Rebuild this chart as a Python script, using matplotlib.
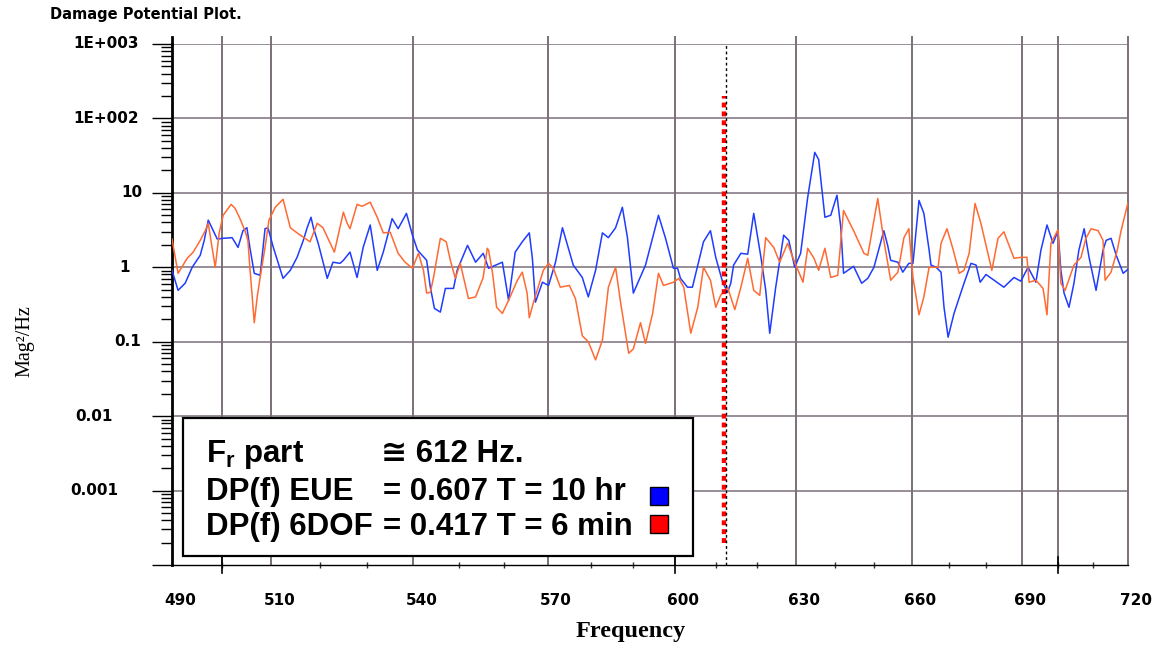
import matplotlib
matplotlib.use("Agg")
import matplotlib.pyplot as plt
from matplotlib.patches import Rectangle
from matplotlib.ticker import FixedLocator, NullFormatter, LogLocator
from matplotlib.transforms import blended_transform_factory, ScaledTranslation

# ---------------- data ----------------
freq_eue = [490.0, 491.2, 492.6, 494.0, 495.6, 496.4, 497.2, 498.2, 499.0, 500.2,
            502.0, 503.2, 504.2, 505.0, 505.6, 506.5, 507.7, 508.7, 509.3, 510.4,
            512.4, 513.9, 515.3, 516.6, 517.4, 518.2, 518.7, 519.7, 521.6, 522.8,
            524.3, 525.0, 526.4, 527.9, 529.2, 530.7, 532.2, 533.5, 535.4, 536.7,
            538.5, 539.8, 540.9, 542.9, 543.7, 544.6, 545.9, 547.0, 548.8, 549.6,
            551.9, 553.7, 555.4, 556.6, 559.7, 561.1, 562.6, 564.2, 565.8, 566.5,
            567.2, 568.3, 568.8, 570.2, 571.8, 573.4, 575.9, 578.0, 579.4, 581.1,
            582.7, 584.1, 585.8, 587.4, 588.6, 590.0, 592.9, 596.0, 597.7, 599.6,
            600.6, 601.3, 603.0, 604.2, 605.5, 606.9, 608.6, 609.9, 611.6, 612.8,
            613.6, 614.3, 616.1, 617.8, 619.3, 621.1, 622.3, 623.3, 624.8, 626.8,
            628.1, 629.6, 631.1, 632.9, 634.7, 635.7, 637.3, 638.8, 640.4, 641.4,
            642.1, 644.7, 646.8, 648.4, 650.0, 652.6, 653.6, 654.4, 656.3, 657.6,
            659.2, 660.3, 661.9, 663.2, 664.6, 665.1, 666.5, 667.8, 668.6, 669.7,
            671.3, 674.0, 675.9, 677.3, 678.4, 680.0, 682.2, 684.9, 687.7, 689.6,
            691.6, 693.8, 695.2, 696.9, 698.6, 700.0, 700.8, 701.7, 703.1, 704.5,
            705.9, 707.4, 708.8, 710.8, 712.8, 713.7, 715.1, 716.6, 718.6, 720.0]
mag_eue = [0.91, 0.49, 0.61, 1.0, 1.45, 2.3, 4.3, 3.1, 2.4, 2.45,
           2.5, 1.85, 3.1, 3.4, 1.85, 0.83, 0.78, 3.3, 3.4, 1.85,
           0.71, 0.91, 1.36, 2.3, 3.4, 4.7, 3.4, 2.1, 0.71, 1.17,
           1.13, 1.24, 1.6, 0.73, 1.85, 3.7, 0.91, 1.6, 4.5, 3.3,
           5.3, 2.7, 1.7, 1.24, 0.54, 0.28, 0.25, 0.52, 0.52, 0.91,
           1.97, 1.17, 1.54, 0.97, 1.17, 0.36, 1.6, 2.2, 2.9, 1.32,
           0.34, 0.52, 0.63, 0.57, 1.17, 3.4, 1.07, 0.73, 0.4, 0.91,
           2.9, 2.5, 3.4, 6.4, 2.5, 0.45, 1.07, 5.0, 2.45, 0.97,
           0.97, 0.71, 0.54, 0.54, 1.07, 2.2, 3.1, 1.36, 0.63, 0.46,
           0.61, 1.07, 1.54, 1.5, 5.3, 1.36, 0.49, 0.13, 0.54, 2.7,
           2.3, 1.0, 1.54, 8.7, 35.0, 28.0, 4.7, 5.0, 9.3, 3.4,
           0.83, 1.03, 0.61, 0.71, 1.0, 3.1, 1.97, 1.24, 1.17, 0.86,
           1.13, 1.13, 7.9, 5.3, 1.7, 1.07, 1.0, 0.86, 0.29, 0.115,
           0.24, 0.61, 1.13, 1.07, 0.63, 0.8, 0.67, 0.54, 0.73, 0.65,
           1.0, 0.63, 1.7, 3.7, 2.1, 3.1, 0.91, 0.45, 0.29, 0.61,
           1.7, 3.3, 1.36, 0.49, 1.7, 2.3, 2.45, 1.45, 0.83, 0.94]

freq_6dof = [490.0, 491.2, 493.0, 494.2, 495.6, 496.6, 497.2, 498.6, 499.4, 500.2,
             501.8, 502.6, 503.6, 504.6, 505.2, 505.6, 506.5, 507.1, 507.7, 508.7,
             509.5, 510.8, 512.4, 513.9, 515.3, 518.0, 519.5, 520.7, 523.1, 525.0,
             525.8, 526.4, 527.9, 529.0, 530.7, 532.2, 533.5, 535.0, 536.7, 538.2,
             539.8, 541.1, 542.2, 542.9, 543.7, 544.4, 545.9, 547.2, 548.1, 549.2,
             550.3, 552.1, 553.7, 555.4, 556.3, 556.6, 557.5, 558.4, 559.7, 561.1,
             563.1, 564.2, 565.3, 565.8, 566.7, 568.3, 569.0, 570.2, 571.3, 572.9,
             575.0, 576.4, 578.0, 579.4, 581.1, 582.7, 584.1, 585.8, 587.0, 588.9,
             590.0, 591.7, 592.9, 594.6, 596.0, 597.2, 599.6, 600.9, 602.1, 603.8,
             605.5, 606.9, 608.6, 609.9, 611.1, 612.8, 614.6, 616.1, 617.8, 619.3,
             620.8, 622.3, 624.3, 625.8, 627.8, 629.1, 631.7, 632.9, 634.5, 635.7,
             637.3, 638.8, 640.6, 642.1, 644.7, 647.4, 648.4, 651.0, 652.6, 654.4,
             656.3, 657.9, 659.2, 660.3, 661.9, 663.2, 664.6, 667.0, 667.8, 669.4,
             671.1, 672.7, 674.0, 675.4, 677.0, 678.6, 681.6, 683.3, 684.9, 687.7,
             689.6, 691.3, 691.9, 693.8, 695.8, 696.9, 698.0, 700.0, 700.8, 702.0,
             704.5, 706.5, 707.9, 709.4, 711.4, 712.8, 713.4, 715.1, 716.9, 718.0,
             720.0]
mag_6dof = [2.4, 0.83, 1.32, 1.6, 2.3, 3.1, 3.9, 1.0, 2.9, 5.0,
            7.0, 6.2, 4.5, 3.1, 2.3, 1.0, 0.18, 0.4, 0.73, 1.85,
            4.3, 6.4, 8.2, 3.4, 2.9, 2.2, 3.9, 3.4, 1.6, 5.5,
            3.9, 3.3, 7.0, 6.6, 7.5, 4.7, 2.9, 2.95, 1.54, 1.17,
            0.97, 1.54, 0.91, 0.45, 0.46, 0.73, 2.45, 2.2, 1.24, 0.71,
            1.13, 0.38, 0.4, 0.73, 1.8, 1.7, 0.83, 0.29, 0.24, 0.36,
            0.67, 0.86, 0.45, 0.21, 0.33, 0.67, 0.91, 1.13, 0.97, 0.54,
            0.57, 0.38, 0.12, 0.1, 0.057, 0.105, 0.54, 1.0, 0.33, 0.07,
            0.08, 0.18, 0.095, 0.24, 0.83, 0.57, 0.63, 0.71, 0.54, 0.13,
            0.29, 1.0, 0.67, 0.29, 0.42, 0.54, 0.27, 0.54, 1.32, 0.49,
            0.42, 2.5, 1.85, 1.17, 2.1, 1.36, 0.63, 1.8, 1.32, 0.91,
            1.8, 0.73, 0.78, 5.8, 3.1, 1.54, 1.45, 8.4, 2.3, 0.67,
            0.86, 2.5, 3.3, 0.73, 0.23, 0.4, 1.0, 1.0, 2.1, 3.3,
            1.7, 0.83, 0.91, 1.54, 7.2, 3.9, 0.91, 2.45, 3.0, 1.32,
            1.36, 1.36, 0.63, 0.67, 0.52, 0.23, 2.1, 3.2, 0.61, 0.49,
            1.07, 1.36, 2.45, 3.3, 3.1, 2.3, 0.67, 0.86, 1.7, 3.1,
            7.4]

xtick_values = [490, 510, 540, 570, 600, 630, 660, 690, 720]
xtick_labels = [str(v) for v in xtick_values]
xgrid_values = [500, 510, 540, 570, 600, 630, 660, 690, 700, 720]
xminor_values = list(range(490, 721, 10))
xlong_ticks = [500, 600, 700]
ytick_values = [1e3, 1e2, 10, 1, 0.1, 0.01, 0.001]
ytick_labels = ["1E+003", "1E+002", "10", "1", "0.1", "0.01", "0.001"]
fr_part = 612
dp_eue = 0.607
dp_6dof = 0.417
marker_top = 200
marker_bottom = 2e-4

# ---------------- styling ----------------
W, H = 1156, 647
plt.rcParams["mathtext.fontset"] = "custom"
plt.rcParams["mathtext.bf"] = "Liberation Sans:bold"
plt.rcParams["mathtext.rm"] = "Liberation Sans:bold"

def fx(px):
    return px / W

def fy(py):
    return 1 - py / H

grid_col = "#7b6f7a"
blue = "#1f3cff"
orange = "#ff6a33"

fig = plt.figure(figsize=(W / 100, H / 100), dpi=100)
ax = fig.add_axes([fx(172), fy(565), (1128 - 172) / W, (565 - 44) / H])
ax.set_xscale("log")
ax.set_yscale("log")
ax.set_xlim(xtick_values[0], xtick_values[-1])
ax.set_ylim(1e-4, 1e3)

# grid
for v in ytick_values:
    ax.axhline(v, color=grid_col, lw=1.1, zorder=1)
for v in xgrid_values:
    ax.axvline(v, ymin=0, ymax=1.013, color=grid_col, lw=1.4, zorder=1, clip_on=False)

# data
ax.plot(freq_eue, mag_eue, color=blue, lw=1.1, zorder=3)
ax.plot(freq_6dof, mag_6dof, color=orange, lw=1.1, zorder=3)

# resonance markers
ax.plot([fr_part, fr_part], [marker_bottom, marker_top], color="#ff0000", lw=3.2,
        linestyle=(0, (1.1, 0.9)), zorder=4)
off = ScaledTranslation(2 / 100, 0, fig.dpi_scale_trans)
ax.plot([fr_part, fr_part], [1e-4, 1e3], color="black", lw=1.0, linestyle=(0, (2, 2)),
        zorder=4, transform=ax.transData + off)

# spines
for s in ["top", "right"]:
    ax.spines[s].set_visible(False)
ax.spines["left"].set_linewidth(2.0)
ax.spines["bottom"].set_linewidth(1.0)
ax.plot([0, 0], [1, 1.013], transform=ax.transAxes, color="black", lw=2.0, clip_on=False)

# y ticks
ax.yaxis.set_major_locator(FixedLocator([1e-4] + ytick_values[::-1]))
ax.yaxis.set_major_formatter(NullFormatter())
ax.yaxis.set_minor_locator(LogLocator(base=10, subs=range(2, 10), numticks=20))
ax.yaxis.set_minor_formatter(NullFormatter())
ax.tick_params(axis="y", which="major", direction="out", length=14.5, width=1.0, color="black")
ax.tick_params(axis="y", which="minor", direction="out", length=8, width=1.0, color="black")

ylabel_right_px = [139, 139, 142, 130, 141, 113, 118]
for v, lab, rpx in zip(ytick_values, ytick_labels, ylabel_right_px):
    ax.text(fx(rpx), v, lab, transform=blended_transform_factory(fig.transFigure, ax.transData),
            ha="right", va="center", fontsize=11, fontweight="bold", family="DejaVu Sans")

# x ticks
ax.xaxis.set_major_locator(FixedLocator(xtick_values))
ax.set_xticklabels(xtick_labels)
ax.xaxis.set_minor_locator(FixedLocator(xminor_values))
ax.xaxis.set_minor_formatter(NullFormatter())
ax.tick_params(axis="x", which="major", length=0, pad=20, labelsize=11)
ax.tick_params(axis="x", which="minor", direction="inout", length=5, width=1.0, color="#333333")
xoff = ScaledTranslation(8 / 100, 0, fig.dpi_scale_trans)
for lab in ax.get_xticklabels():
    lab.set_fontweight("bold")
    lab.set_family("DejaVu Sans")
    lab.set_transform(lab.get_transform() + xoff)
tr = blended_transform_factory(ax.transData, ax.transAxes)
for v in xlong_ticks:
    ax.plot([v, v], [-8 / 521, 8 / 521], transform=tr, color="black", lw=1.2, clip_on=False)

# titles / labels
fig.text(fx(50), fy(15), "Damage Potential Plot.", ha="left", va="center",
         fontsize=10.5, fontweight="bold", family="DejaVu Sans")
fig.text(fx(25), fy(341), "Mag\u00b2/Hz", rotation=90, ha="center", va="center",
         fontsize=14.5, family="Liberation Serif")
fig.text(fx(631), fy(632), "Frequency", ha="center", va="center",
         fontsize=17.5, fontweight="bold", family="Liberation Serif")

# legend box
fig.add_artist(Rectangle((fx(183), fy(556)), (693 - 183) / W, (556 - 418) / H,
                         transform=fig.transFigure, facecolor="white", edgecolor="black",
                         lw=1.6, zorder=10))
fam = ["Liberation Sans", "DejaVu Sans"]
kw = dict(fontsize=22.5, fontweight="bold", family=fam, va="baseline", ha="left", zorder=11)
fig.text(fx(206), fy(462), r"F$_\mathbf{r}$ part", **kw)
fig.text(fx(206), fy(500), "DP(f) EUE", **kw)
fig.text(fx(206), fy(535), "DP(f) 6DOF", **kw)
fig.text(fx(381), fy(462), f"\u2245 {fr_part} Hz.", **kw)
fig.text(fx(383), fy(500), f"= {dp_eue:.3f} T = 10 hr", **kw)
fig.text(fx(383), fy(535), f"= {dp_6dof:.3f} T = 6 min", **kw)
fig.add_artist(Rectangle((fx(650), fy(505)), 18 / W, 18 / H, transform=fig.transFigure,
                         facecolor="#0000ff", edgecolor="black", lw=1.0, zorder=12))
fig.add_artist(Rectangle((fx(650), fy(533)), 18 / W, 18 / H, transform=fig.transFigure,
                         facecolor="#ff0000", edgecolor="black", lw=1.0, zorder=12))

fig.savefig("out.png", dpi=100)
